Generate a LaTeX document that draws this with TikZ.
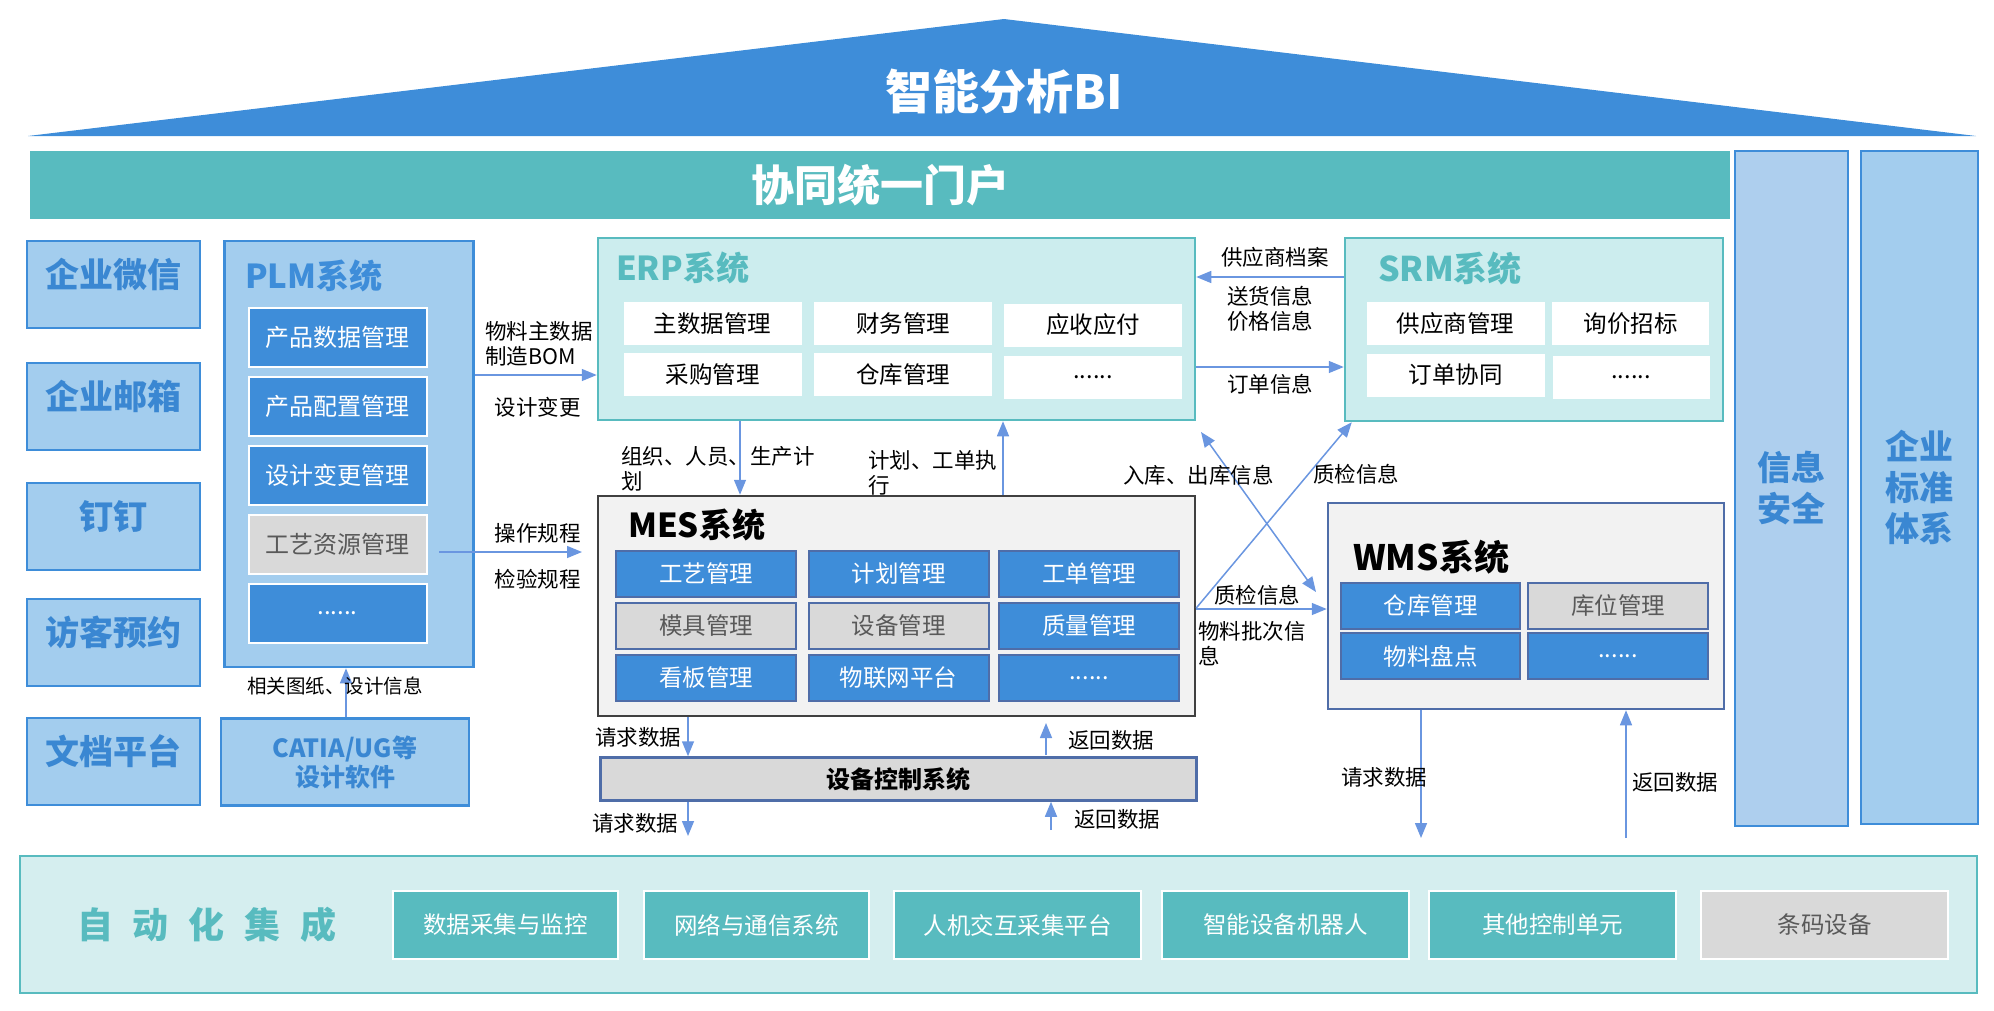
\documentclass[tikz,border=0pt]{standalone}
\usepackage{fontspec}
\setmainfont{Noto Sans CJK SC}
\usetikzlibrary{arrows.meta}

\definecolor{bimain}{RGB}{62,141,217}
\definecolor{paleblue}{RGB}{163,205,238}
\definecolor{secfill}{RGB}{174,207,238}
\definecolor{deepblue}{RGB}{58,135,210}
\definecolor{portal}{RGB}{88,187,191}
\definecolor{erpfill}{RGB}{204,237,238}
\definecolor{bandfill}{RGB}{213,238,239}
\definecolor{mesfill}{RGB}{242,242,242}
\definecolor{mesline}{RGB}{64,64,64}
\definecolor{slate}{RGB}{79,109,168}
\definecolor{cellgray}{RGB}{217,217,217}
\definecolor{txtgray}{RGB}{89,89,89}
\definecolor{flowblue}{RGB}{106,150,224}

\begin{document}
\begin{tikzpicture}[x=1pt, y=-1pt,
box/.style={draw, line width=2.5pt, inner sep=0pt, align=center},
side/.style={box, draw=bimain, fill=paleblue, minimum width=173pt, minimum height=87pt,
  text=deepblue, font=\fontsize{34}{38}\selectfont\bfseries, text height=29pt, text depth=23pt},
cell/.style={box, line width=2pt, minimum height=46pt, font=\fontsize{23.5}{26}\selectfont},
plmcell/.style={cell, draw=white, fill=bimain, text=white, minimum width=178pt, minimum height=59pt,
  font=\fontsize{24}{26}\selectfont},
bluecell/.style={cell, draw=slate, fill=bimain, text=white},
graycell/.style={cell, draw=slate, fill=cellgray, text=txtgray},
whitecell/.style={cell, draw=none, fill=white, minimum height=43pt},
autocell/.style={box, draw=white, fill=portal, text=white, minimum height=68pt, font=\fontsize{23.5}{26}\selectfont},
title/.style={anchor=west, inner sep=0pt, font=\fontsize{33}{36}\selectfont\bfseries},
lbl/.style={inner sep=0pt, align=left, font=\fontsize{21.5}{25}\selectfont},
flow/.style={draw=flowblue, line width=1.5pt, -{Triangle[length=15pt,width=12pt]}},
flowboth/.style={flow, {Triangle[length=15pt,width=12pt]}-{Triangle[length=15pt,width=12pt]}}]
\def\gap{\hspace{20pt}}
\useasboundingbox (0,0) rectangle (1994,1010);
% BI roof
\fill[bimain] (28,136) -- (1004,19) -- (1976,136) -- cycle;
\node[inner sep=0pt, text=white, font=\fontsize{47}{50}\selectfont\bfseries] (bi) at (1004,92) {智能分析BI};
% portal
\node[box, draw=none, fill=portal, minimum width=1700pt, minimum height=68pt, text=white,
  font=\fontsize{43}{46}\selectfont\bfseries] (portal) at (880,185) {协同统一门户};
% right columns
\node[box, draw=bimain, line width=2pt, fill=secfill, minimum width=113pt, minimum height=675pt,
  text=deepblue, font=\fontsize{34}{41}\selectfont\bfseries] (sec) at (1791.5,488.5) {信息\\安全};
\node[box, draw=bimain, line width=2pt, fill=paleblue, minimum width=117pt, minimum height=673pt,
  text=deepblue, font=\fontsize{34}{41}\selectfont\bfseries] (std) at (1919.5,487.5) {企业\\标准\\体系};
% left apps
\node[side] (wechat) at (113.5,284.5) {企业微信};
\node[side] (mail) at (113.5,406.5) {企业邮箱};
\node[side] (ding) at (113.5,526.5) {钉钉};
\node[side] (visit) at (113.5,642.5) {访客预约};
\node[side] (docs) at (113.5,761.5) {文档平台};
% PLM
\node[box, draw=bimain, fill=paleblue, minimum width=249pt, minimum height=426pt] (plm) at (349,454) {};
\node[title, text=bimain] (plm-t) at (245,276) {PLM系统};
\node[plmcell] (pdm) at (337.5,337.5) {产品数据管理};
\node[plmcell] (pcm) at (337.5,406.5) {产品配置管理};
\node[plmcell] (ecm) at (337.5,475.5) {设计变更管理};
\node[plmcell, fill=cellgray, text=txtgray] (proc) at (337.5,544.5) {工艺资源管理};
\node[plmcell] (plm-more) at (337.5,613.5) {......};
\node[box, draw=bimain, fill=paleblue, minimum width=248pt, minimum height=87pt, text=deepblue,
  font=\fontsize{25}{29}\selectfont\bfseries] (catia) at (345,762) {CATIA/UG等\\设计软件};
\draw[flow] (catia.north -| 346,0) -- (plm.south -| 346,0);
\node[lbl, font=\fontsize{19.5}{22}\selectfont] (draw-l) at (335,686) {相关图纸、设计信息};
% ERP
\node[box, draw=portal, fill=erpfill, minimum width=597pt, minimum height=182pt] (erp) at (896.5,329) {};
\node[title, text=portal] (erp-t) at (616,268) {ERP系统};
\node[whitecell, minimum width=178pt] (mdm) at (712.5,323.5) {主数据管理};
\node[whitecell, minimum width=178pt] (fin) at (903,323.5) {财务管理};
\node[whitecell, minimum width=178pt] (arap) at (1093,325) {应收应付};
\node[whitecell, minimum width=178pt] (pur) at (712.5,374.5) {采购管理};
\node[whitecell, minimum width=178pt] (ewh) at (903,374.5) {仓库管理};
\node[whitecell, minimum width=178pt] (erp-more) at (1093,377) {......};
% MES
\node[box, draw=mesline, fill=mesfill, minimum width=597pt, minimum height=220pt] (mes) at (896.5,606) {};
\node[title] (mes-t) at (628,525) {MES系统};
\node[bluecell, minimum width=180pt] (route) at (706,574) {工艺管理};
\node[bluecell, minimum width=180pt] (plan) at (898.5,574) {计划管理};
\node[bluecell, minimum width=180pt] (order) at (1089,574) {工单管理};
\node[graycell, minimum width=180pt] (mold) at (706,626) {模具管理};
\node[graycell, minimum width=180pt] (equip) at (898.5,626) {设备管理};
\node[bluecell, minimum width=180pt] (qual) at (1089,626) {质量管理};
\node[bluecell, minimum width=180pt] (board) at (706,678) {看板管理};
\node[bluecell, minimum width=180pt] (iot) at (898.5,678) {物联网平台};
\node[bluecell, minimum width=180pt] (mes-more) at (1089,678) {......};
% device control
\node[box, draw=slate, fill=cellgray, minimum width=596pt, minimum height=43pt,
  font=\fontsize{24}{26}\selectfont\bfseries] (dev) at (898.5,779) {设备控制系统};
% SRM
\node[box, draw=portal, fill=erpfill, minimum width=378pt, minimum height=183pt] (srm) at (1534,329.5) {};
\node[title, text=portal, font=\fontsize{34}{36}\selectfont\bfseries] (srm-t) at (1378,268.5) {SRM系统};
\node[whitecell, minimum width=178pt] (sup) at (1455.5,323.5) {供应商管理};
\node[whitecell, minimum width=157pt] (rfq) at (1630.5,323.5) {询价招标};
\node[whitecell, minimum width=178pt] (ocol) at (1455.5,375) {订单协同};
\node[whitecell, minimum width=157pt] (srm-more) at (1631,377) {......};
% WMS
\node[box, draw=slate, fill=mesfill, minimum width=396pt, minimum height=206pt] (wms) at (1526,606) {};
\node[title, font=\fontsize{35}{38}\selectfont\bfseries] (wms-t) at (1353,557) {WMS系统};
\node[bluecell, minimum width=179pt] (whm) at (1430.5,606) {仓库管理};
\node[graycell, minimum width=180pt] (loc) at (1618,606) {库位管理};
\node[bluecell, minimum width=179pt] (count) at (1430.5,656) {物料盘点};
\node[bluecell, minimum width=180pt] (wms-more) at (1618,656) {......};
% automation band
\node[box, draw=portal, fill=bandfill, minimum width=1957pt, minimum height=137pt] (band) at (998.5,924.5) {};
\node[inner sep=0pt, text=portal, font=\fontsize{36}{40}\selectfont\bfseries] (auto-t) at (207,925) {自\gap 动\gap 化\gap 集\gap 成};
\node[autocell, minimum width=225pt] (daq) at (505.5,925) {数据采集与监控};
\node[autocell, minimum width=225pt] (net) at (756.5,925) {网络与通信系统};
\node[autocell, minimum width=247pt] (hmi) at (1017.5,925) {人机交互采集平台};
\node[autocell, minimum width=247pt] (robot) at (1285.5,925) {智能设备机器人};
\node[autocell, minimum width=247pt] (ctrl) at (1552.5,925) {其他控制单元};
\node[autocell, minimum width=247pt, fill=cellgray, text=txtgray] (barcode) at (1824.5,925) {条码设备};
% PLM links
\draw[flow] (plm.east |- 0,375) -- (erp.west |- 0,375);
\node[lbl, anchor=west] (bom-l) at (485,344) {物料主数据\\制造BOM};
\node[lbl] (chg-l) at (537.5,407) {设计变更};
\coordinate (op-s) at (439,552);
\coordinate (op-e) at (582,552);
\draw[flow] (op-s) -- (op-e);
\node[lbl] (op-l) at (537.5,533) {操作规程};
\node[lbl] (chk-l) at (537.5,579) {检验规程};
% ERP - MES
\draw[flow] (erp.south -| 740,0) -- (mes.north -| 740,0);
\draw[flow] (mes.north -| 1003,0) -- (erp.south -| 1003,0);
\node[lbl, anchor=west] (org-l) at (621,469) {组织、人员、生产计\\划};
\node[lbl, anchor=west] (plan-l) at (868,473) {计划、工单执\\行};
% ERP - SRM
\draw[flow] (srm.west |- 0,277) -- (erp.east |- 0,277);
\draw[flow] (erp.east |- 0,367) -- (srm.west |- 0,367);
\node[lbl] (vend-l) at (1275,257) {供应商档案};
\node[lbl, align=center] (deliv-l) at (1270,309) {送货信息\\价格信息};
\node[lbl] (ord-l) at (1270,384) {订单信息};
% cross links
\coordinate (io-a) at (1201,432);
\coordinate (io-b) at (1316,592);
\draw[flowboth] (io-a) -- (io-b);
\node[lbl, anchor=west] (io-l) at (1123,475) {入库、出库信息};
\draw[flow] (mes.east |- 0,608) -- ([xshift=8pt]srm.south west);
\node[lbl, anchor=west] (qc-l) at (1313,474) {质检信息};
\draw[flow] (mes.east |- 0,609) -- (wms.west |- 0,609);
\node[lbl] (qc2-l) at (1257,595) {质检信息};
\node[lbl, anchor=west] (lot-l) at (1198,644) {物料批次信\\息};
% device links
\draw[flow] (mes.south -| 688,0) -- (dev.north -| 688,0);
\coordinate (ret1-s) at (1046,755);
\coordinate (ret1-e) at (1046,723);
\draw[flow] (ret1-s) -- (ret1-e);
\node[lbl] (req1-l) at (638,737) {请求数据};
\node[lbl] (ret1-l) at (1111,740) {返回数据};
\coordinate (req2-e) at (688,836);
\draw[flow] (dev.south -| 688,0) -- (req2-e);
\coordinate (ret2-s) at (1051,830);
\draw[flow] (ret2-s) -- (dev.south -| 1051,0);
\node[lbl] (req2-l) at (635,823) {请求数据};
\node[lbl] (ret2-l) at (1117,819) {返回数据};
% WMS links
\coordinate (wreq) at (1421,838);
\draw[flow] (wms.south -| 1421,0) -- (wreq);
\coordinate (wret) at (1626,838);
\draw[flow] (wret) -- (wms.south -| 1626,0);
\node[lbl] (req3-l) at (1384,777) {请求数据};
\node[lbl] (ret3-l) at (1675,782) {返回数据};
\end{tikzpicture}
\end{document}
